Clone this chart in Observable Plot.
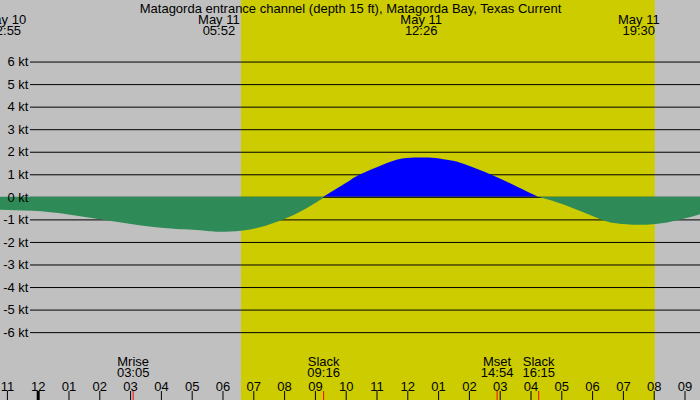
<!DOCTYPE html>
<html><head><meta charset="utf-8">
<script src="https://cdn.jsdelivr.net/npm/d3@7"></script>
<script src="https://cdn.jsdelivr.net/npm/@observablehq/plot@0.6"></script>
<style>
html,body{margin:0;padding:0;background:#c0c0c0;}
svg{display:block;}
</style></head><body><div id="chart"></div>
<script>
const title = "Matagorda entrance channel (depth 15 ft), Matagorda Bay, Texas Current";

// current samples (clock time, knots; + flood, - ebb)
const sampleTimes = ["2024-05-10 22:46","2024-05-10 23:51","2024-05-11 00:57","2024-05-11 02:01","2024-05-11 03:05","2024-05-11 04:12","2024-05-11 05:16","2024-05-11 05:52","2024-05-11 06:36","2024-05-11 07:13","2024-05-11 07:52","2024-05-11 08:31","2024-05-11 09:10","2024-05-11 09:16","2024-05-11 10:08","2024-05-11 10:28","2024-05-11 11:11","2024-05-11 11:50","2024-05-11 12:26","2024-05-11 12:55","2024-05-11 13:23","2024-05-11 13:43","2024-05-11 14:37","2024-05-11 15:34","2024-05-11 16:15","2024-05-11 17:11","2024-05-11 18:16","2024-05-11 18:50","2024-05-11 19:30","2024-05-11 20:26","2024-05-11 21:31"];
const sampleKnots = [-0.57,-0.62,-0.77,-0.99,-1.21,-1.39,-1.48,-1.55,-1.50,-1.35,-1.06,-0.66,-0.14,0,0.73,0.99,1.41,1.70,1.75,1.72,1.62,1.51,1.05,0.45,0,-0.40,-0.99,-1.18,-1.24,-1.14,-0.77];

// max current times shown at the top
const peakTimes = ["2024-05-10 22:55","2024-05-11 05:52","2024-05-11 12:26","2024-05-11 19:30"];
const peakLabels = ["May 10\n22:55","May 11\n05:52","May 11\n12:26","May 11\n19:30"];

// events shown at the bottom
const eventNames = ["Mrise","Slack","Mset","Slack"];
const eventTimes = ["2024-05-11 03:05","2024-05-11 09:16","2024-05-11 14:54","2024-05-11 16:15"];

// daylight (sunrise, sunset)
const daylight = ["2024-05-11 06:36","2024-05-11 20:02"];

// axis
const gridKnots = [-6,-5,-4,-3,-2,-1,1,2,3,4,5,6];
const axisKnots = [-6,-5,-4,-3,-2,-1,0,1,2,3,4,5,6];
const hourTickStart = "2024-05-10 23:00";
const hourTickEnd = "2024-05-11 21:00";
const xDomain = ["2024-05-10 22:46:34","2024-05-11 21:30:11"];
const gridStartTime = "2024-05-10 23:45";
const yDomain = [-9.01, 8.73];

const parse = d3.utcParse("%Y-%m-%d %H:%M");
const parseS = d3.utcParse("%Y-%m-%d %H:%M:%S");

// split the series into flood / ebb segments at slack (zero) points
const segs = [];
let seg = 0;
sampleTimes.forEach((t, i) => {
  const v = sampleKnots[i];
  segs.push({t: parse(t), v, seg});
  if (v === 0 && i > 0) { seg++; segs.push({t: parse(t), v, seg}); }
});
const segSign = {};
segs.forEach(d => { if (d.v !== 0) segSign[d.seg] = d.v > 0 ? "flood" : "ebb"; });
const flood = segs.filter(d => segSign[d.seg] === "flood");
const ebb = segs.filter(d => segSign[d.seg] === "ebb");

const peaks = peakTimes.map((t, i) => ({t: parse(t), label: peakLabels[i]}));
const events = eventTimes.map((t, i) => ({t: parse(t), label: eventNames[i] + "\n" + eventTimes[i].slice(11)}));
const xd = xDomain.map(parseS);
const gridStart = parse(gridStartTime);
const hours = d3.utcHour.range(parse(hourTickStart), d3.utcHour.offset(parse(hourTickEnd), 1));

const plot = Plot.plot({
  width: 700, height: 400,
  marginTop: 0, marginBottom: 0, marginLeft: 0, marginRight: 0,
  style: {background: "#c0c0c0", fontFamily: "'Liberation Sans', Arial, sans-serif", fontSize: "13px", color: "#000"},
  x: {type: "utc", domain: xd, axis: null},
  y: {domain: yDomain, axis: null},
  marks: [
    Plot.rect([daylight], {x1: d => parse(d[0]), x2: d => parse(d[1]), fill: "#cccc00"}),
    Plot.ruleY(gridKnots, {y: d => d, x1: () => gridStart, x2: () => xd[1], stroke: "#000"}),
    Plot.areaY(flood, {x: "t", y1: 0, y2: "v", z: "seg", fill: "#0000ff", curve: "natural"}),
    Plot.ruleY([0], {y: d => d, x1: () => gridStart, x2: () => xd[1], stroke: "#000"}),
    Plot.areaY(ebb, {x: "t", y1: 0, y2: "v", z: "seg", fill: "#2e8b57", curve: "natural"}),
    Plot.text(axisKnots, {x: () => gridStart, y: d => d, text: d => `${d} kt`, textAnchor: "end", dx: -2, fill: "#000"}),
    Plot.text([title], {frameAnchor: "top", lineAnchor: "top", dy: 3.3, text: d => d, fill: "#000"}),
    Plot.text(peaks, {x: "t", frameAnchor: "top", lineAnchor: "top", dy: 15, lineHeight: 0.885, text: "label", fill: "#000"}),
    Plot.text(events, {x: "t", frameAnchor: "bottom", lineAnchor: "top", dy: -42.7, lineHeight: 0.85, text: "label", fill: "#000"}),
    Plot.text(hours, {x: d => d, frameAnchor: "bottom", lineAnchor: "top", dy: -18.3, text: d3.utcFormat("%I"), fill: "#000"}),
    Plot.ruleX(hours, {x: d => d, insetTop: 391, stroke: "#000", strokeWidth: d => d.getUTCHours() === 0 ? 3 : 1}),
    Plot.ruleX(events, {x: "t", insetTop: 391, stroke: "#ff0000"})
  ]
});
document.getElementById("chart").appendChild(plot);
</script>
</body></html>
